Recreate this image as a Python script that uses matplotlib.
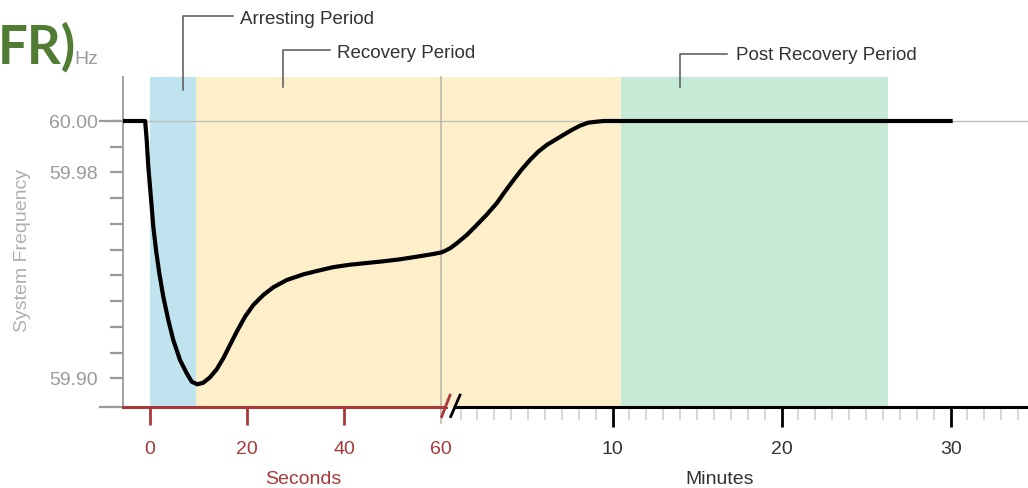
import matplotlib
matplotlib.use('Agg')
import matplotlib.pyplot as plt
import matplotlib.transforms as mtransforms
from matplotlib.lines import Line2D

plt.rcParams['font.family'] = ['Liberation Sans', 'DejaVu Sans']

# curve, first minute (seconds)
sec_t = [-5.6, -1.0, -0.68, -0.35, 0.0, 0.35, 0.68, 1.24, 1.92, 2.74, 3.77, 4.80, 6.19,
         7.57, 8.60, 9.75, 10.99, 12.37, 13.75, 15.11, 16.49, 17.88, 19.59, 21.30, 23.36,
         25.42, 28.19, 31.61, 35.05, 37.79, 41.24, 44.68, 48.10, 51.55, 54.99, 58.41,
         60.14, 61.03]
sec_f = [60.0, 60.0, 59.99262, 59.98224, 59.97447, 59.96669, 59.95892, 59.94986, 59.94081,
         59.93171, 59.92266, 59.91489, 59.90711, 59.90194, 59.89868, 59.89767, 59.89829,
         59.90039, 59.90350, 59.90777, 59.91294, 59.91811, 59.92394, 59.92849, 59.93237,
         59.93537, 59.93820, 59.94040, 59.94200, 59.94320, 59.94415, 59.94481, 59.94547,
         59.94625, 59.94726, 59.94831, 59.94897, 59.94970]
# curve, after the break (minutes)
min_t = [0.0, 0.38, 0.78, 1.37, 1.96, 2.55, 3.14, 3.60, 4.12, 4.60, 5.11, 5.60, 6.10,
         6.59, 7.08, 7.58, 8.07, 8.56, 9.04, 9.5, 30.0]
min_f = [59.94930, 59.95052, 59.95247, 59.95569, 59.95958, 59.96360, 59.96801, 59.97230,
         59.97690, 59.98100, 59.98484, 59.98807, 59.99067, 59.99262, 59.99456, 59.99650,
         59.99817, 59.99934, 59.99973, 60.0, 60.0]

y_ticks = [59.90, 59.91, 59.92, 59.93, 59.94, 59.95, 59.96, 59.97, 59.98, 59.99, 60.00]
y_labels = ['59.90', '', '', '', '', '', '', '', '59.98', '', '60.00']
sec_ticks = [0, 20, 40, 60]
min_major = [10, 20, 30]
min_minor = [m for m in range(1, 35) if m not in min_major]

arresting = (0, 9.5)           # seconds
recovery_sec = (9.5, 62)       # seconds
recovery_min = (-1, 10.5)      # minutes
post_recovery = (10.5, 26.3)   # minutes

W, H = 1028, 488
fig = plt.figure(figsize=(W / 100, H / 100), dpi=100)
ax1 = fig.add_axes([123 / W, 81 / H, (446 - 123) / W, 330 / H])
ax2 = fig.add_axes([446 / W, 81 / H, (W - 446) / W, 330 / H])

ylim = (59.88885, 60.0171)
red = '#a8393a'
for ax in (ax1, ax2):
    ax.set_ylim(*ylim)
    ax.patch.set_visible(False)
    for s in ('top', 'right'):
        ax.spines[s].set_visible(False)
    ax.axhline(60.0, color='#bdbdbd', lw=1, zorder=1)
ax1.set_xlim(-5.567, 61.03)
ax2.set_xlim(0.142, 34.58)

# shaded periods
ax1.axvspan(*arresting, color='#c0e4ef', lw=0, zorder=0)
ax1.axvspan(*recovery_sec, color='#fdefca', lw=0, zorder=0)
ax2.axvspan(*recovery_min, color='#fdefca', lw=0, zorder=0)
ax2.axvspan(*post_recovery, color='#c6ead6', lw=0, zorder=0)

# 60 s divider
ax1.axvline(60, ymin=-16 / 330, ymax=1, color='#bdb6a8', lw=1.2, clip_on=False, zorder=1)

# frequency curve
ax1.plot(sec_t, sec_f, color='black', lw=3, solid_joinstyle='round', zorder=3)
ax2.plot(min_t, min_f, color='black', lw=3, solid_joinstyle='round', zorder=3)

# y axis
ax1.spines['left'].set_color('#9a9a9a')
ax1.spines['left'].set_linewidth(1.3)
ax1.set_yticks(y_ticks)
ax1.set_yticklabels(y_labels)
ax1.tick_params(axis='y', length=9.4, width=1.6, color='#9a9a9a', labelcolor='#9a9a9a',
                labelsize=14, pad=9)
yt = mtransforms.blended_transform_factory(ax1.transAxes, ax1.transData)
ax1.plot([-23 / 323, 0], [60.0, 60.0], transform=yt, color='#9a9a9a', lw=1.6, clip_on=False)
ax1.plot([-23 / 323, 0], [0, 0], transform=ax1.transAxes, color='#9a9a9a', lw=1.6, clip_on=False)

# seconds axis
ax1.spines['bottom'].set_color(red)
ax1.spines['bottom'].set_linewidth(2.2)
ax1.set_xticks(sec_ticks)
ax1.set_xticklabels([str(t) for t in sec_ticks])
ax1.tick_params(axis='x', length=13, width=2, color=red, labelcolor=red, labelsize=14, pad=11.5)
ax1.xaxis.get_major_ticks()[-1].tick1line.set_visible(False)

# minutes axis
ax2.spines['left'].set_visible(False)
ax2.set_yticks([])
ax2.spines['bottom'].set_color('black')
ax2.spines['bottom'].set_linewidth(2.2)
ax2.spines['bottom'].set_bounds(0.67, 34.58)
ax2.set_xticks(min_major)
ax2.set_xticklabels([str(m) for m in min_major])
ax2.set_xticks(min_minor, minor=True)
ax2.tick_params(axis='x', which='major', length=14.4, width=2, color='black',
                labelcolor='#333333', labelsize=14, pad=10)
ax2.tick_params(axis='x', which='minor', length=9.4, width=1.1, color='#cccccc')

# break marks
bt = mtransforms.blended_transform_factory(ax2.transData, ax2.transAxes)
ax2.plot([-0.11, 0.38], [-0.029, 0.036], transform=bt, color=red, lw=2, clip_on=False, zorder=5)
ax2.plot([0.42, 0.97], [-0.029, 0.036], transform=bt, color='black', lw=2, clip_on=False, zorder=5)

# labels
fig.text(303 / W, 1 - 480 / H, 'Seconds', color=red, fontsize=14, ha='center', va='center')
fig.text(720 / W, 1 - 480 / H, 'Minutes', color='#333333', fontsize=14, ha='center', va='center')
fig.text(23 / W, 1 - 250 / H, 'System Frequency', color='#b0b0b0', fontsize=14,
         rotation=90, ha='center', va='center')
fig.text(98 / W, 1 - 59 / H, 'Hz', color='#9a9a9a', fontsize=14, ha='right', va='center')

# period annotations
def bracket(x0, y_top, y_bot, x1):
    xs = [x1 / W, x0 / W, x0 / W]
    ys = [1 - y_top / H, 1 - y_top / H, 1 - y_bot / H]
    fig.add_artist(Line2D(xs, ys, color='#555555', lw=1.1))

bracket(183, 16, 90, 233)
fig.text(240 / W, 1 - 19 / H, 'Arresting Period', color='#333333', fontsize=13.5, va='center')
bracket(283, 50, 87, 330)
fig.text(337 / W, 1 - 54 / H, 'Recovery Period', color='#333333', fontsize=13.5, va='center')
bracket(680, 54, 87, 727)
fig.text(736 / W, 1 - 56 / H, 'Post Recovery Period', color='#333333', fontsize=13.5, va='center')

# cut-off slide title
fig.text(76 / W, 1 - 47 / H, 'FR)', color='#507d33', fontsize=38, fontweight='bold',
         family=['Lato', 'DejaVu Sans'], ha='right', va='center')

fig.savefig('out.png', dpi=100)
